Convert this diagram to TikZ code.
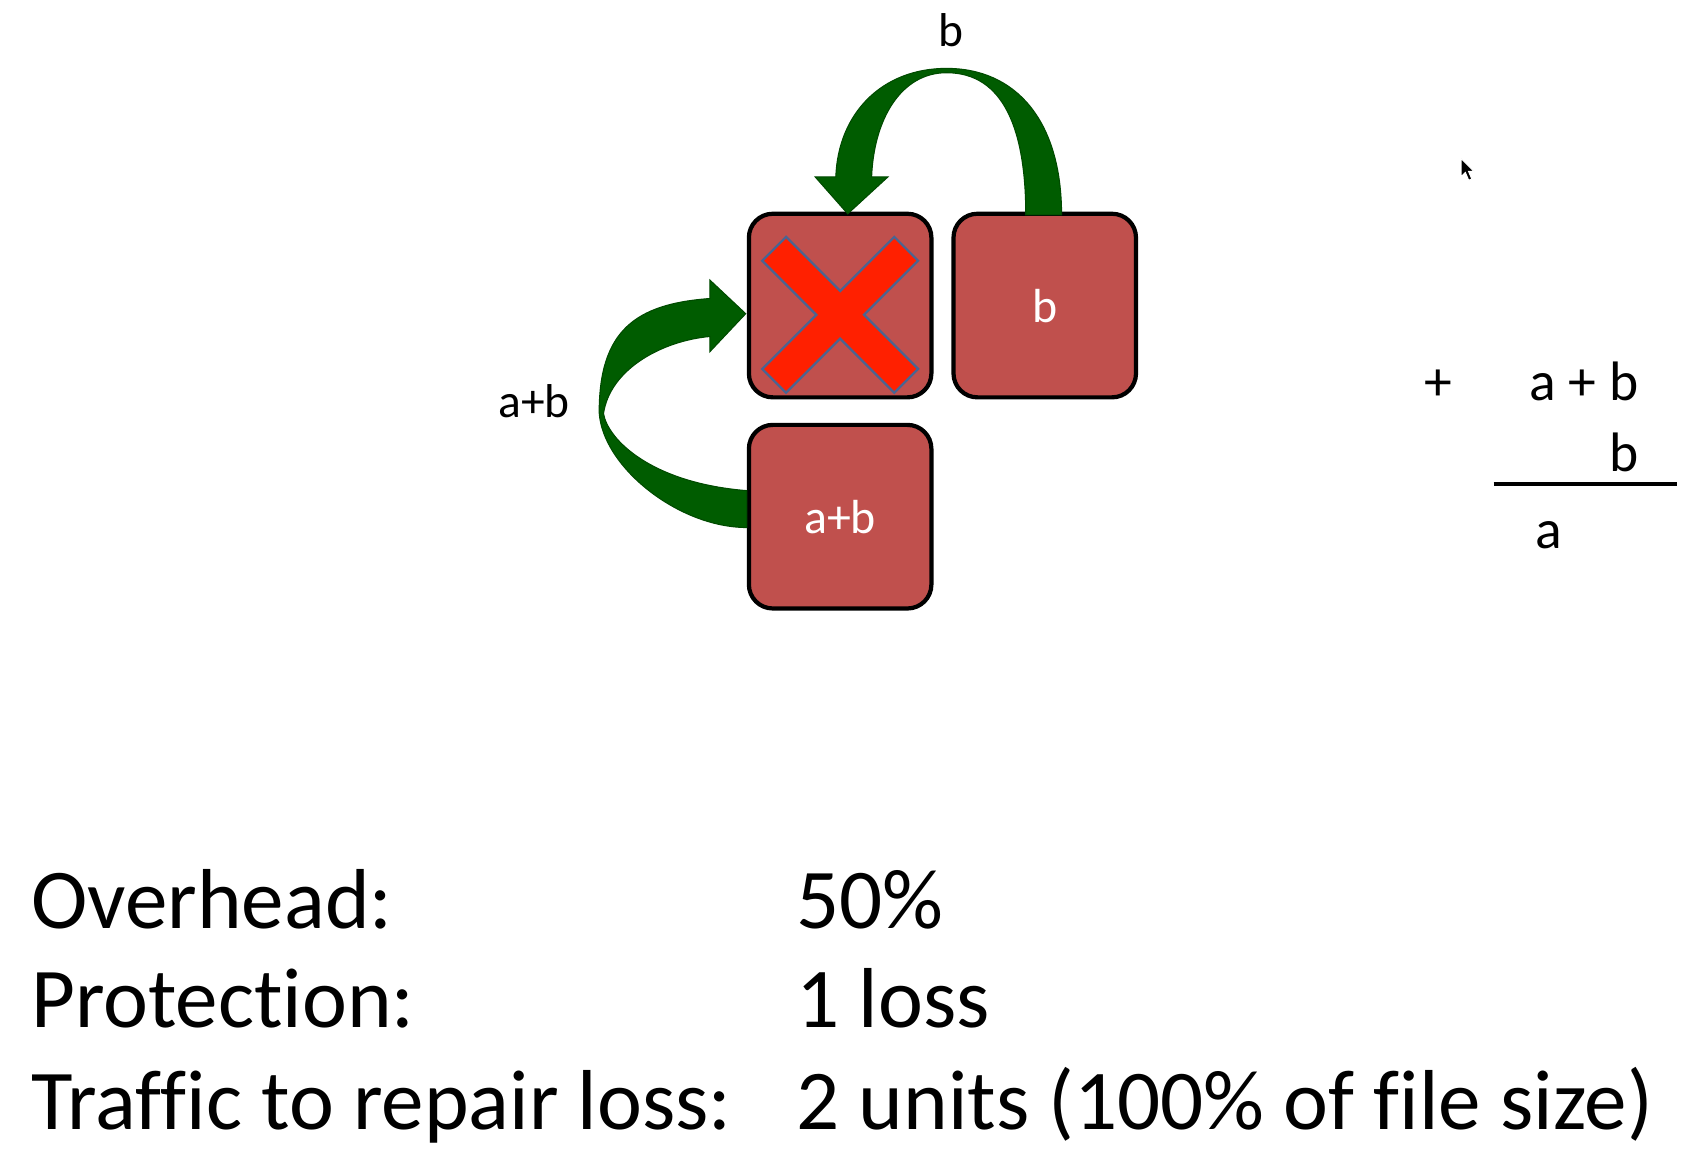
\documentclass[tikz,border=0pt]{standalone}
\usepackage{fontspec}
\setmainfont{Carlito}[Ligatures={NoCommon}]
\definecolor{boxred}{RGB}{192,80,77}
\definecolor{arrowgreen}{RGB}{0,92,0}
\definecolor{xred}{RGB}{255,32,0}
\definecolor{xblue}{RGB}{75,100,145}
\begin{document}
\begin{tikzpicture}[x=0.010855cm,y=-0.010855cm,
  blk/.style={draw=black, line width=1.2pt, fill=boxred, rounded corners=6.8pt,
    minimum width=1.824cm, minimum height=1.835cm, text=white,
    font=\fontsize{13.6}{16}\selectfont, inner sep=0pt},
  lbl/.style={font=\fontsize{13.5}{16}\selectfont, inner sep=0pt},
  mth/.style={font=\fontsize{15.8}{18}\selectfont, inner sep=0pt},
  big/.style={font=\fontsize{24.2}{29}\selectfont, inner sep=0pt, anchor=base west},
  garrow/.style={fill=arrowgreen, draw=arrowgreen!80!black, line width=0.3pt}
]
\useasboundingbox (0,0) rectangle (1568,1059);

% boxes
\node[blk] (nx) at (774,281.5) {};
\node[blk, text depth=-3pt] (nb) at (962.5,281.5) {b};
\node[blk, text depth=-2pt] (nab) at (774,476) {a+b};

% red X
\begin{scope}[shift={(774,290)}, rotate=45]
  \filldraw[fill=xred, draw=xblue, line width=0.65pt, line join=miter]
    (86,15.5) -- (15.5,15.5) -- (15.5,86) -- (-15.5,86) -- (-15.5,15.5) -- (-86,15.5) --
    (-86,-15.5) -- (-15.5,-15.5) -- (-15.5,-86) -- (15.5,-86) -- (15.5,-15.5) -- (86,-15.5) -- cycle;
\end{scope}

% top curved arrow (from b to lost box)
\filldraw[garrow]
  (978,198) .. controls (978,110) and (935,63) .. (872,63)
  .. controls (812,63) and (772,105) .. (770,163)
  -- (751,163) -- (781,197) -- (818,163) -- (803,163)
  .. controls (805,110) and (830,67) .. (872,67)
  .. controls (925,67) and (945,120) .. (945,198) -- cycle;

% left curved arrow (from a+b to lost box)
\filldraw[garrow]
  (688,486) .. controls (625,486) and (555,430) .. (552,380)
  .. controls (552,305) and (585,280) .. (654,275)
  -- (654,258) -- (687,289) -- (654,324) -- (654,310)
  .. controls (610,314) and (562,340) .. (556,381)
  .. controls (560,405) and (600,445) .. (688,452) -- cycle;

% labels
\node[lbl] (lb) at (876,28) {b};
\node[lbl] (lab) at (492,370) {a+b};

% arithmetic
\node[mth] (plus) at (1325,355) {+};
\node[mth, anchor=base east] (s1) at (1510,369) {a + b};
\node[mth, anchor=base east] (s2) at (1510,434) {b};
\coordinate (rl) at (1376,446);
\coordinate (rr) at (1545,446);
\draw[line width=1.2pt] (rl) -- (rr);
\node[mth, anchor=base] (res) at (1427,505) {a};

% mouse cursor
\filldraw[fill=black, draw=white, line width=0.3pt]
  (1346,146) -- (1346,163) -- (1350,159) -- (1353,166) -- (1356,165)
  -- (1353,158) -- (1358,158) -- cycle;

% bottom text
\node[big] (t1) at (28,855) {Overhead:};
\node[big] (t2) at (28,947) {Protection:};
\node[big] (t3) at (28,1041) {Traffic to repair loss:};
\node[big] (v1) at (733,855) {50\%};
\node[big] (v2) at (733,947) {1 loss};
\node[big] (v3) at (733,1041) {2 units (100\% of file size)};
\end{tikzpicture}
\end{document}
